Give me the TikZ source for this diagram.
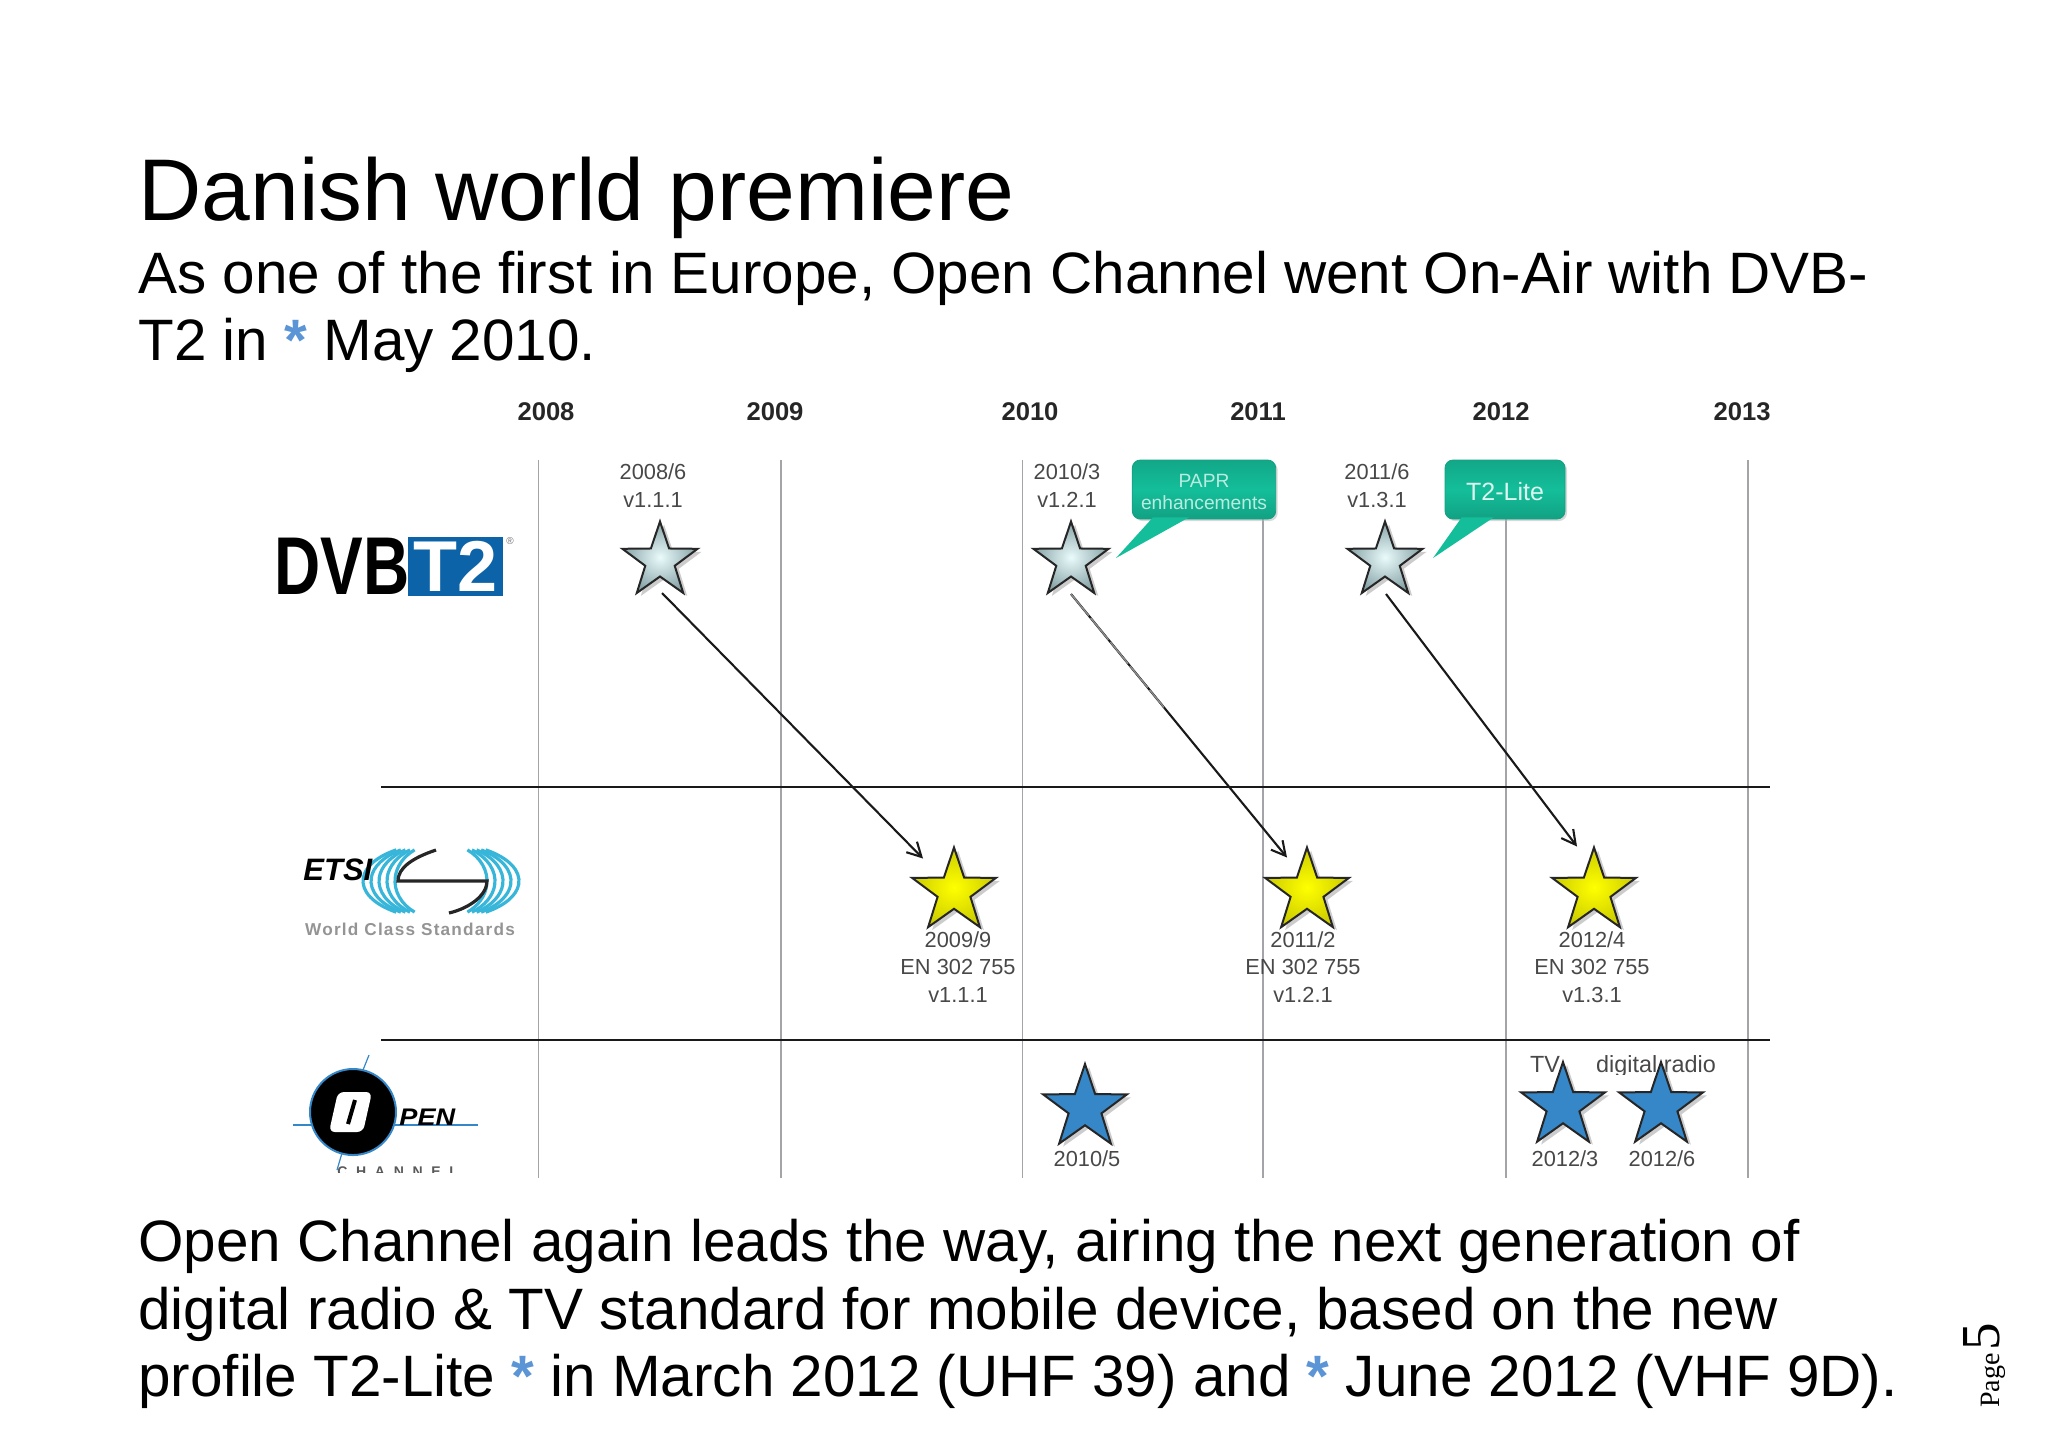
\documentclass[tikz,border=0pt]{standalone}
\usepackage{fontspec}
\setmainfont{Liberation Sans}
\newfontfamily\pagefont{Liberation Serif}
\usetikzlibrary{shapes.geometric,shadows,arrows.meta,calc}
\definecolor{gridgrey}{HTML}{A4A4A8}
\definecolor{labelgrey}{HTML}{484848}
\definecolor{markblue}{HTML}{5B95D6}
\definecolor{callgreen}{HTML}{14BE9A}
\definecolor{t2blue}{HTML}{0C63A8}
\definecolor{etsicyan}{HTML}{38B6DA}
\definecolor{openblue}{HTML}{3687C8}
\definecolor{silveredge}{HTML}{86A2A6}
\definecolor{silvermid}{HTML}{EAFBFB}
\tikzset{
  starbase/.style={star,star points=5,star point ratio=2.55,inner sep=0pt,draw=black!85,
    line width=1pt,drop shadow={shadow xshift=2pt,shadow yshift=-1.5pt,fill=black!40}},
  silverstar/.style={starbase,minimum size=39.5pt,inner color=silvermid,outer color=silveredge},
  yellowstar/.style={starbase,minimum size=44pt,inner color=yellow,outer color=yellow!80!black},
  bluestar/.style={starbase,minimum size=44pt,fill=openblue},
  datelabel/.style={text=labelgrey,align=center,inner sep=0pt,font=\fontsize{10.9}{13.7}\selectfont},
  yearlabel/.style={text=black!85,inner sep=0pt,font=\fontsize{12.8}{15}\bfseries\selectfont},
  slidetext/.style={anchor=base west,inner sep=0pt,font=\fontsize{29.2}{34}\selectfont},
  callbox/.style={rounded corners=4pt,draw=callgreen!85!black,top color=callgreen!88!black,
    bottom color=callgreen!85!black,middle color=callgreen,inner sep=0pt,align=center,
    drop shadow={shadow xshift=1pt,shadow yshift=-1pt,fill=black!30}},
  flowarrow/.style={-{Straight Barb[length=7pt,width=7.5pt]},line width=1.05pt,black!90},
  gridline/.style={gridgrey,line width=.8pt},
  rowline/.style={black!90,line width=1.3pt},
  radiolabel/.style={text=labelgrey,inner sep=0pt,anchor=base,font=\fontsize{11.7}{13}\selectfont}
}
\newcommand{\blueast}{\textcolor{markblue}{\bfseries *}}
\begin{document}
\begin{tikzpicture}[x=.5pt,y=-.5pt]
\useasboundingbox (0,0) rectangle (2048,1448);
%slide text
\node[anchor=base west,inner sep=0pt,font=\fontsize{43.8}{50}\selectfont] (title) at (138,220) {Danish world premiere};
\node[slidetext] (top1) at (138,293) {As one of the first in Europe, Open Channel went On-Air with DVB-};
\node[slidetext] (top2) at (138,360) {T2 in \blueast{} May 2010.};
\node[slidetext] (low1) at (138,1261) {Open Channel again leads the way, airing the next generation of};
\node[slidetext] (low2) at (138,1329) {digital radio \& TV standard for mobile device, based on the new};
\node[slidetext] (low3) at (138,1396) {profile T2-Lite \blueast{} in March 2012 (UHF 39) and \blueast{} June 2012 (VHF 9D).};
\node[rotate=90,anchor=base west,inner sep=0pt,font=\pagefont\fontsize{14}{15}\selectfont] (pagenr) at (1999,1408) {Page\kern1.5pt{\fontsize{27.5}{28}\selectfont 5}};
%grid
\foreach \x in {538.5,781,1022.5,1263,1506,1748} {\draw[gridline] (\x,460) -- (\x,1178);}
\draw[rowline] (381,787) -- (1770,787);
\draw[rowline] (381,1040) -- (1770,1040);
\foreach \x/\y in {546/2008,775/2009,1030/2010,1258/2011,1501/2012,1742/2013} {\node[yearlabel] (y\y) at (\x,412) {\y};}
%T2 versions
\node[silverstar] (s1) at (660,561) {};
\node[silverstar] (s2) at (1071,561) {};
\node[silverstar] (s3) at (1385,561) {};
\node[datelabel] (s1t) at (653,485.5) {2008/6\\v1.1.1};
\node[datelabel] (s2t) at (1067,485.5) {2010/3\\v1.2.1};
\node[datelabel] (s3t) at (1377,485.5) {2011/6\\v1.3.1};
%callouts
\coordinate (papr tip) at (1116,558);
\coordinate (lite tip) at (1433,558);
\node[callbox,minimum width=71.7pt,minimum height=29.5pt,text=white!70!callgreen,font=\fontsize{9.6}{11}\selectfont] (papr) at (1204,489.5) {\rule{0pt}{9.2pt}PAPR\\enhancements};
\node[callbox,minimum width=60pt,minimum height=29.5pt,text=white!85!callgreen,font=\fontsize{12.5}{14}\selectfont] (lite) at (1505,489.5) {\rule{0pt}{11.5pt}T2-Lite};
\fill[callgreen] ([shift={(21,-2)}]papr.south west) -- (papr tip) -- ([shift={(57,-2)}]papr.south west) -- cycle;
\fill[callgreen] ([shift={(17,-2)}]lite.south west) -- (lite tip) -- ([shift={(49,-2)}]lite.south west) -- cycle;
%ETSI versions
\node[yellowstar] (e1) at (954,891.5) {};
\node[yellowstar] (e2) at (1307,891.5) {};
\node[yellowstar] (e3) at (1594,891.5) {};
\node[datelabel] (e1t) at (958,967) {2009/9\\EN 302 755\\v1.1.1};
\node[datelabel] (e2t) at (1303,967) {2011/2\\EN 302 755\\v1.2.1};
\node[datelabel] (e3t) at (1592,967) {2012/4\\EN 302 755\\v1.3.1};
\coordinate (a2s) at ([shift={(0,33)}]s2.center);
\coordinate (a2e) at ([shift={(-20,-34)}]e2.center);
\draw[flowarrow] ([shift={(2,32)}]s1.center) -- ([shift={(-31,-33)}]e1.center);
\draw[flowarrow] (a2s) -- (a2e);
\draw[flowarrow] ([shift={(1,33)}]s3.center) -- ([shift={(-17,-45)}]e3.center);
\draw[white!55!black,line width=.7pt,dash pattern=on 14pt off 1.5pt] (a2s) -- ($(a2s)!.43!(a2e)$);
%Open Channel
\begin{scope}
\clip (1520,1050) rectangle (1730,1074);
\node[radiolabel] (tvt) at (1545,1072) {TV};
\node[radiolabel] (radiot) at (1656,1072) {digital radio};
\end{scope}
\node[bluestar] (o1) at (1085,1108) {};
\node[bluestar] (o2) at (1563,1106) {};
\node[bluestar] (o3) at (1661,1106) {};
\node[datelabel] (o1t) at (1087,1159) {2010/5};
\node[datelabel] (o2t) at (1565,1159) {2012/3};
\node[datelabel] (o3t) at (1662,1159) {2012/6};
%DVB logo
\fill[t2blue] (408,537) rectangle (503,596);
\node[inner sep=0pt,font=\fontsize{41}{41}\bfseries\selectfont,xscale=.78] (dvb) at (342,566.5) {DVB};
\node[inner sep=0pt,text=white,font=\fontsize{36}{36}\bfseries\selectfont] (t2) at (456,566.5) {T2};
\node[inner sep=0pt,text=black!55,font=\fontsize{5}{5}\selectfont] (reg) at (510,541) {\textregistered};
%ETSI logo
\foreach \r in {46,54,62,70,78} {
\draw[etsicyan,line width=1.6pt] (441,881) ++({\r*cos(125)},{38*sin(125)}) arc[start angle=125,end angle=235,x radius=\r,y radius=38];
\draw[etsicyan,line width=1.6pt] (441,881) ++({\r*cos(-55)},{38*sin(-55)}) arc[start angle=-55,end angle=55,x radius=\r,y radius=38];
}
\draw[black!85,line width=1.6pt] (436,850) .. controls (412,858) and (398,868) .. (398,881) -- (487,881) .. controls (487,895) and (470,908) .. (449,913);
\node[inner sep=0pt,anchor=base west,font=\fontsize{15.5}{17}\bfseries\itshape\selectfont] (etsi) at (303,880) {ETSI};
\node[inner sep=0pt,text=black!42,font=\addfontfeature{LetterSpace=7}\fontsize{8.6}{10}\bfseries\selectfont] (wcs) at (410,929) {World Class Standards};
%Open Channel logo
\draw[openblue,line width=.6pt] (293,1125) -- (478,1125);
\draw[openblue,line width=.6pt] (369,1055) -- (363,1070);
\draw[openblue,line width=.6pt] (342,1153) -- (337,1170);
\node[circle,fill=black,draw=openblue,line width=1pt,minimum size=43pt,inner sep=0pt] (openring) at (353,1112) {};
\fill[white,rounded corners=3pt] (338,1092) -- (372,1092) -- (363,1132) -- (329,1132) -- cycle;
\draw[black,line width=2pt] (355,1100) -- (348,1124);
\node[inner sep=0pt,anchor=base west,xscale=1.13,font=\fontsize{12}{14}\bfseries\itshape\selectfont] (pen) at (399,1125) {PEN};
\begin{scope}
\clip (330,1166) rectangle (470,1172);
\node[inner sep=0pt,anchor=base west,text=black!65,font=\addfontfeature{LetterSpace=62}\fontsize{7}{8}\bfseries\selectfont] (chan) at (337,1176) {CHANNEL};
\end{scope}
\end{tikzpicture}
\end{document}
